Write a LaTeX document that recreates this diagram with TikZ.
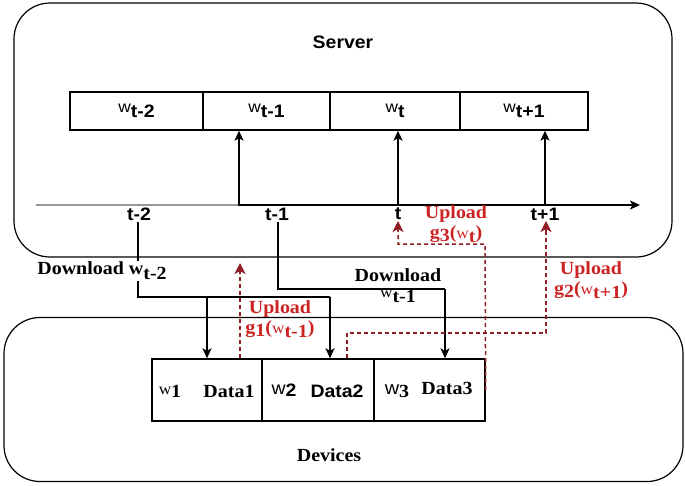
\documentclass[tikz,border=0pt]{standalone}
\usepackage{fontspec}
\setmainfont{Liberation Serif}[FakeStretch=1.08]
\setsansfont{Liberation Sans}[FakeStretch=1.08]
\usetikzlibrary{arrows.meta}
\definecolor{upred}{RGB}{204,34,34}
\definecolor{dashred}{RGB}{145,30,36}
\definecolor{axisgray}{RGB}{150,150,150}
\newcommand\lowr[2][5pt]{\raisebox{-#1}{#2}}
\newcommand\smw{{\fontsize{16}{16}\selectfont\mdseries w}}
\begin{document}
\begin{tikzpicture}[x=1pt,y=-1pt,line width=1.4pt,
  roundbox/.style={draw,rounded corners=36pt,inner sep=0pt,line width=1.2pt},
  cell/.style={draw,inner sep=0pt,minimum height=38pt,font=\sffamily\bfseries\fontsize{18}{20}\selectfont},
  dcell/.style={draw,inner sep=0pt,minimum height=62pt},
  sanslab/.style={font=\sffamily\bfseries\fontsize{18}{20}\selectfont,inner sep=1pt},
  seriflab/.style={font=\rmfamily\bfseries\fontsize{18.5}{20}\selectfont,inner sep=1pt},
  uplab/.style={seriflab,text=upred,align=center},
  solidarrow/.style={-{Stealth[length=10pt,width=9pt,inset=2.5pt]}},
  dashline/.style={draw=dashred,line width=1.5pt,dash pattern=on 4pt off 3pt},
  redtip/.style={draw=dashred,line width=1.5pt,solid,-{Stealth[length=11pt,width=11pt,inset=3pt]}}]
\useasboundingbox (0,0) rectangle (685,485);
% server
\node[roundbox,minimum width=658pt,minimum height=254pt] (server) at (343,130) {};
\node[sanslab] (srvlab) at (343,42) {Server};
\node[cell,minimum width=133pt] (c1) at (136.5,111) {\smw\lowr{t-2}};
\node[cell,minimum width=127pt] (c2) at (266.5,111) {\smw\lowr{t-1}};
\node[cell,minimum width=130pt] (c3) at (395,111) {\smw\lowr{t}};
\node[cell,minimum width=128pt] (c4) at (524,111) {\smw\lowr{t+1}};
% timeline
\coordinate (ax0) at (36,205);
\coordinate (axm) at (240,205);
\coordinate (ax1) at (640,205);
\draw[axisgray] (ax0) -- (axm);
\draw[solidarrow] (axm) -- (ax1);
\node[sanslab] (lt2) at (139,214) {t-2};
\node[sanslab] (lt1) at (277,214) {t-1};
\node[sanslab] (lt0) at (398,214) {t};
\node[sanslab] (ltp) at (545,214) {t+1};
\coordinate (a1) at (239,206);
\coordinate (a2) at (398,205);
\coordinate (a3) at (545,205);
\draw[solidarrow] (a1) -- (a1 |- c2.south);
\draw[solidarrow] (a2) -- (a2 |- c3.south);
\draw[solidarrow] (a3) -- (a3 |- c4.south);
% devices
\node[roundbox,minimum width=679pt,minimum height=164pt] (dev) at (343.5,399.5) {};
\node[seriflab] (devlab) at (329,455) {Devices};
\node[dcell,minimum width=110pt] (d1) at (207,390) {};
\node[dcell,minimum width=112pt] (d2) at (318,390) {};
\node[dcell,minimum width=111pt] (d3) at (429.5,390) {};
\node[seriflab] (dw1) at (170,391) {\smw\lowr[3pt]{1}};
\node[seriflab] (dd1) at (229,391) {Data1};
\node[sanslab] (dw2) at (284,390) {{\mdseries w}\lowr[2pt]{2}};
\node[sanslab] (dd2) at (337,391) {Data2};
\node[seriflab] (dw3) at (397,391) {{\sffamily\mdseries w}\lowr[3pt]{3}};
\node[seriflab] (dd3) at (447,388) {Data3};
% downloads
\coordinate (k1) at (138,297);
\coordinate (k2) at (207,297);
\coordinate (k3) at (330,297);
\draw (lt2.south -| k1) -- (k1) -- (k3);
\draw[solidarrow] (k3) -- (k3 |- d2.north);
\draw[solidarrow] (k2) -- (k2 |- d1.north);
\node[seriflab,fill=white] (dl1lab) at (102,271) {Download w\lowr{t-2}};
\coordinate (m1) at (278,289);
\coordinate (m2) at (445,289);
\draw (lt1.south -| m1) -- (m1) -- (m2);
\draw[solidarrow] (m2) -- (m2 |- d3.north);
\node[seriflab] (dl2a) at (398,275) {Download};
\node[seriflab] (dl2b) at (398,296) {\smw\lowr{t-1}};
% uploads
\coordinate (p1) at (240,263);
\coordinate (p0) at (240,273);
\draw[dashline] (p1 |- d1.north) -- (p0);
\draw[redtip] (p0) -- (p1);
\coordinate (q2) at (485,244);
\coordinate (q3) at (398,244);
\coordinate (q4) at (398,221);
\coordinate (q5) at (398,231);
\draw[dashline] (d3.east) -- (q2) -- (q3) -- (q5);
\draw[redtip] (q5) -- (q4);
\coordinate (r1) at (347,333);
\coordinate (r2) at (546,333);
\coordinate (r3) at (546,221);
\coordinate (r4) at (546,231);
\draw[dashline] (r1 |- d2.north) -- (r1) -- (r2) -- (r4);
\draw[redtip] (r4) -- (r3);
\node[uplab] (ul1) at (280,319) {Upload\\g\lowr[3pt]{1}(\smw\lowr[4pt]{t-1})};
\node[uplab] (ul3) at (456,224) {Upload\\g\lowr[3pt]{3}(\smw\lowr[4pt]{t})};
\node[uplab] (ul2) at (591,280) {Upload\\g\lowr[3pt]{2}(\smw\lowr[4pt]{t+1})};
\end{tikzpicture}
\end{document}
